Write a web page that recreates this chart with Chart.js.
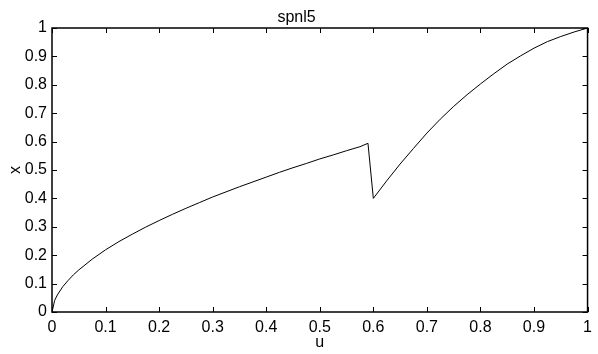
<!DOCTYPE html>
<html>
<head>
<meta charset="utf-8">
<script src="https://cdn.jsdelivr.net/npm/chart.js@4"></script>
<style>
  html, body { margin: 0; padding: 0; background: #fff; }
  #wrap { width: 598px; height: 354px; }
</style>
</head>
<body>
<div id="wrap"><canvas id="myChart" width="598" height="354"></canvas></div>
<script>
// values (two branches, jump near u = 0.6)
var uValues = [0, 0.005, 0.01, 0.02, 0.03, 0.04, 0.05, 0.075, 0.1, 0.125, 0.15, 0.175, 0.2, 0.225, 0.25,
               0.275, 0.3, 0.325, 0.35, 0.375, 0.4, 0.425, 0.45, 0.475, 0.5, 0.525, 0.55, 0.575, 0.59,
               0.6, 0.625, 0.65, 0.675, 0.7, 0.725, 0.75, 0.775, 0.8, 0.825, 0.85, 0.875, 0.9, 0.925,
               0.95, 0.975, 1];
var xValues = [0, 0.041, 0.06, 0.089, 0.111, 0.131, 0.148, 0.186, 0.219, 0.248, 0.274, 0.299, 0.322, 0.344, 0.365,
               0.385, 0.405, 0.423, 0.441, 0.458, 0.475, 0.492, 0.508, 0.523, 0.539, 0.553, 0.568, 0.582, 0.594,
               0.4, 0.462, 0.521, 0.576, 0.630, 0.679, 0.724, 0.765, 0.803, 0.839, 0.873, 0.902, 0.929, 0.952,
               0.970, 0.986, 1];
var xTicks = [0, 0.1, 0.2, 0.3, 0.4, 0.5, 0.6, 0.7, 0.8, 0.9, 1];
var yTicks = [0, 0.1, 0.2, 0.3, 0.4, 0.5, 0.6, 0.7, 0.8, 0.9, 1];

var pts = [];
for (let i = 0; i < uValues.length; i++) {
  pts.push({x: uValues[i], y: xValues[i]});
}

const FONT = 'Helvetica, Arial, "Liberation Sans", sans-serif';

// box + inward ticks on all four sides (matlab look)
const boxPlugin = {
  id: 'box',
  afterDraw(chart) {
    const c = chart.ctx, a = chart.chartArea;
    const sx = chart.scales.x, sy = chart.scales.y;
    const tl = 5;
    c.save();
    c.strokeStyle = '#000';
    c.lineWidth = 1;
    xTicks.forEach(v => {
      const px = Math.round(sx.getPixelForValue(v)) + 0.5;
      c.beginPath();
      c.moveTo(px, a.bottom); c.lineTo(px, a.bottom - tl);
      c.moveTo(px, a.top); c.lineTo(px, a.top + tl);
      c.stroke();
    });
    yTicks.forEach(v => {
      const py = Math.round(sy.getPixelForValue(v)) + 0.5;
      c.beginPath();
      c.moveTo(a.left, py); c.lineTo(a.left + tl, py);
      c.moveTo(a.right, py); c.lineTo(a.right - tl, py);
      c.stroke();
    });
    c.lineWidth = 1.5;
    c.strokeRect(a.left, a.top, a.right - a.left, a.bottom - a.top);
    c.restore();
  }
};

const ctx = document.getElementById('myChart').getContext('2d');
new Chart(ctx, {
  type: 'scatter',
  data: {
    datasets: [{
      data: pts,
      showLine: true,
      borderColor: '#000',
      borderWidth: 1,
      pointRadius: 0,
      tension: 0
    }]
  },
  options: {
    responsive: false,
    animation: false,
    layout: { padding: { left: 0, right: 5, top: 0, bottom: 0 } },
    plugins: {
      legend: { display: false },
      tooltip: { enabled: false },
      title: {
        display: true,
        text: 'spnl5',
        color: '#000',
        font: { family: FONT, size: 16, weight: 'normal', lineHeight: 1.2 },
        padding: { top: 8, bottom: 0.8 }
      }
    },
    scales: {
      x: {
        type: 'linear',
        min: 0, max: 1,
        afterBuildTicks(scale) { scale.ticks = xTicks.map(v => ({value: v})); },
        afterFit(scale) { scale.height = 42; },
        grid: { display: false, drawTicks: false },
        border: { display: false },
        ticks: { color: '#000', padding: 6, maxRotation: 0, font: { family: FONT, size: 16 },
                 callback: v => String(v) },
        title: { display: true, text: 'u', color: '#000', padding: { top: 0, bottom: 2 },
                 font: { family: FONT, size: 16 } }
      },
      y: {
        type: 'linear',
        min: 0, max: 1,
        afterBuildTicks(scale) { scale.ticks = yTicks.map(v => ({value: v})); },
        afterFit(scale) { scale.width = 52; },
        grid: { display: false, drawTicks: false },
        border: { display: false },
        ticks: { color: '#000', padding: 5, font: { family: FONT, size: 16 },
                 callback: v => String(v) },
        title: { display: true, text: 'x', color: '#000', padding: { top: 6, bottom: 0 },
                 font: { family: FONT, size: 16 } }
      }
    }
  },
  plugins: [boxPlugin]
});
</script>
</body>
</html>
